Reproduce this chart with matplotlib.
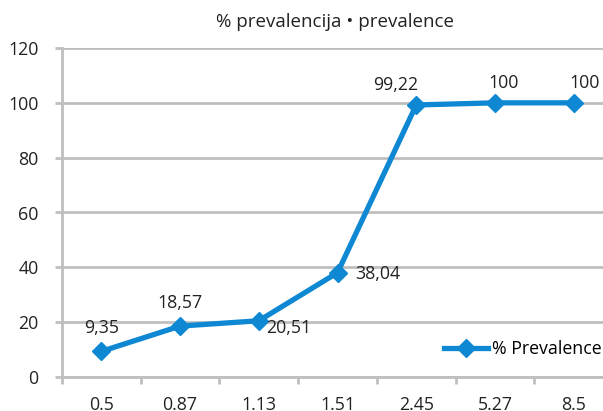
import matplotlib
matplotlib.use("Agg")
import matplotlib.pyplot as plt

categories = ["0.5", "0.87", "1.13", "1.51", "2.45", "5.27", "8.5"]
values = [9.35, 18.57, 20.51, 38.04, 99.22, 100, 100]
labels = ["9,35", "18,57", "20,51", "38,04", "99,22", "100", "100"]
label_offsets = [(0, 10), (0, 10), (5, -5), (13, -1), (-15, 8), (6, 8), (8, 8)]
label_ha = ["center", "center", "left", "left", "center", "center", "center"]
yticks = [0, 20, 40, 60, 80, 100, 120]

plt.rcParams['font.family'] = ['Open Sans', 'DejaVu Sans']
fs = 12.8

fig = plt.figure(figsize=(6.03, 4.11), dpi=100)
ax = fig.add_axes([62/603, 34/411, 551/603, 329/411])
grid_c = '#BFBFBF'
line_c = '#0E88D3'

x = list(range(len(categories)))
ax.plot(x, values, color=line_c, lw=3.8, marker='D', markersize=9.5,
        label='% Prevalence', zorder=3, clip_on=False)
for xi, v, lab, off, ha in zip(x, values, labels, label_offsets, label_ha):
    ax.annotate(lab, (xi, v), xytext=off, textcoords='offset points',
                ha=ha, va='bottom' if off[1] > 0 else 'center',
                fontsize=fs, color='#222222')

ax.set_xlim(-0.5, 6.5)
ax.set_ylim(0, 120)
ax.set_yticks(yticks)
ax.set_yticklabels([str(t) for t in yticks], fontsize=fs, color='#222222')
ax.set_xticks(x)
ax.set_xticklabels(categories, fontsize=fs, color='#222222')
ax.set_xticks([i - 0.5 for i in range(len(categories) + 1)], minor=True)
ax.tick_params(axis='x', which='major', length=0, pad=14)
ax.tick_params(axis='x', which='minor', length=5, width=2, color=grid_c)
ax.tick_params(axis='y', length=5, width=2, color=grid_c, pad=12)
ax.grid(axis='y', color=grid_c, lw=2)
ax.set_axisbelow(True)
for s in ['top', 'right']:
    ax.spines[s].set_visible(False)
for s in ['left', 'bottom']:
    ax.spines[s].set_color(grid_c)
    ax.spines[s].set_linewidth(2)

fig.text(335/603, 1 - 22/411, '% prevalencija • prevalence', ha='center', va='center',
         fontsize=13.5, color='#222222')

leg = ax.legend(loc='center left', bbox_to_anchor=(0.693, 0.085), frameon=False,
                fontsize=fs, handlelength=2.5, handletextpad=0.2,
                borderaxespad=0, borderpad=0)

fig.savefig('out.png', dpi=100)
